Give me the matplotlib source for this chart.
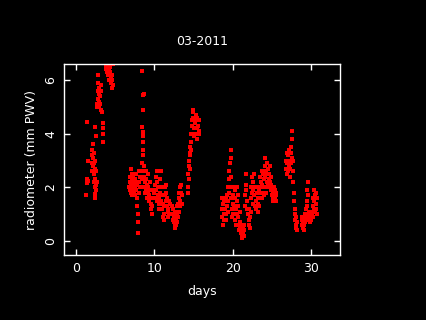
import numpy as np
import matplotlib
matplotlib.use("Agg")
import matplotlib.pyplot as plt

# radiometer PWV readings (day of month, mm PWV)
days_a = [1.35, 1.4, 1.45, 1.4, 1.45, 1.5, 1.55,
          2.0, 2.05, 2.1, 2.1, 2.15, 2.2, 2.2, 2.25, 2.3, 2.3, 2.35, 2.4, 2.4, 2.45, 2.45,
          2.5, 2.5, 2.55, 2.55, 2.4, 2.6, 2.6, 2.65,
          2.7, 2.75, 2.8, 2.8, 2.85, 2.85, 2.9, 2.95, 3.0, 3.0, 3.05, 3.1, 3.15, 3.2, 3.25, 3.3,
          3.4, 3.45, 3.45, 3.5,
          3.85, 3.9, 3.95, 4.0, 4.05, 4.1, 4.15, 4.2, 4.25, 4.3, 4.4, 4.45, 4.5, 4.55, 4.6,
          4.65, 4.7, 4.7]
pwv_a = [1.7, 2.2, 2.3, 2.15, 4.45, 3.0, 2.25,
         2.6, 2.9, 3.2, 3.4, 2.8, 3.1, 3.6, 2.5, 3.3, 2.2, 2.9, 2.0, 1.75, 1.6, 2.7,
         3.0, 2.3, 2.1, 3.9, 4.25, 2.6, 1.9, 2.2,
         5.1, 5.0, 5.3, 5.6, 5.9, 6.2, 5.5, 5.2, 5.0, 5.7, 5.4, 5.1, 4.9, 5.6, 5.8, 4.8,
         4.4, 4.2, 4.0, 3.7,
         6.55, 6.4, 6.6, 6.3, 6.5, 6.2, 6.6, 6.0, 6.4, 6.3, 6.5, 6.1, 5.9, 6.2, 5.7,
         6.0, 5.8, 6.6]

days_b = [6.8, 6.85, 6.9, 6.95, 7.0, 7.0, 7.05, 7.1, 7.15, 7.2, 7.2, 7.25, 7.3, 7.35, 7.4,
          7.45, 7.5, 7.5, 7.55, 7.6, 7.65, 7.7, 7.75, 7.8, 7.85, 7.9, 7.9, 7.95, 8.0, 8.05,
          8.1, 8.15, 8.2,
          8.5, 8.55, 8.55, 8.6, 8.55, 8.6, 8.5, 8.6, 8.55, 8.65, 8.5,
          8.5, 8.6, 8.65, 8.7, 8.75, 8.8, 8.85, 8.9, 8.95, 9.0, 9.05, 9.1, 9.15, 9.2, 9.25,
          9.3, 9.35, 9.4, 9.45, 9.5, 9.55, 9.6, 9.65, 9.7, 9.75, 9.8,
          10.0, 10.1, 10.15, 10.2, 10.25, 10.3, 10.35, 10.4, 10.45, 10.5, 10.55, 10.6, 10.65,
          10.7, 10.75, 10.8, 10.85, 10.9, 10.95,
          11.05, 11.1, 11.15, 11.2, 11.25, 11.3, 11.35, 11.4, 11.45, 11.5, 11.55, 11.6, 11.65,
          11.7, 11.75, 11.8, 11.85, 11.9, 11.95,
          12.3, 12.35, 12.4, 12.45, 12.5, 12.55, 12.6, 12.65, 12.7, 12.75, 12.8, 12.85, 12.9,
          12.95, 13.0, 13.05, 13.1, 13.15, 13.2, 13.25, 13.3, 13.35, 13.4, 13.45, 13.5, 13.55,
          14.3, 14.35, 14.4, 14.35, 14.4, 14.45, 14.5, 14.5, 14.55, 14.6, 14.65, 14.7, 14.75,
          14.8, 14.85, 14.9, 14.95, 15.0, 15.05, 15.1, 15.2, 15.25, 15.3, 15.35, 15.4, 15.45,
          15.5, 15.6, 15.65, 15.7, 15.75]
pwv_b = [2.0, 2.2, 1.9, 2.4, 2.1, 2.7, 1.8, 2.3, 2.0, 2.5, 1.7, 2.2, 1.9, 2.4, 2.1,
         1.8, 2.0, 2.3, 1.7, 2.2, 1.9, 2.5, 2.1, 1.6, 1.3, 1.0, 0.7, 0.3, 1.8, 2.2,
         2.6, 2.4, 2.0,
         2.9, 3.2, 3.4, 3.7, 3.9, 4.05, 4.25, 4.9, 5.45, 5.5, 6.35,
         2.3, 2.6, 2.0, 2.8, 2.4, 1.8, 2.2, 2.6, 1.9, 2.3, 1.6, 2.1, 2.5, 1.8, 2.0,
         1.5, 1.7, 2.2, 1.9, 1.6, 1.4, 1.2, 1.0, 1.3, 1.6, 1.9,
         1.8, 2.1, 1.6, 2.4, 1.9, 1.5, 2.6, 2.2, 1.7, 2.0, 1.4, 1.6, 1.2,
         1.8, 2.3, 2.6, 2.0, 1.5, 1.7,
         1.2, 0.9, 1.4, 1.0, 0.8, 1.3, 1.7, 2.0, 1.5, 1.8, 2.1, 1.6, 1.3,
         1.1, 0.9, 1.2, 1.5, 1.0, 1.4,
         1.3, 1.0, 0.8, 1.2, 0.7, 0.9, 0.6, 1.1, 0.5, 0.8, 0.6, 1.0, 0.7,
         1.3, 0.9, 1.4, 1.1, 1.6, 1.8, 1.3, 2.0, 1.5, 1.8, 2.1, 1.7, 1.4,
         1.8, 2.0, 2.3, 2.5, 2.8, 3.0, 2.7, 3.3, 3.5, 3.2, 3.7, 3.4, 4.0,
         4.3, 4.5, 4.8, 4.9, 4.6, 4.2, 3.9, 4.0, 4.4, 4.7, 4.5, 4.2, 3.8,
         4.6, 4.3, 4.0, 4.5, 4.1]

days_c = [18.6, 18.65, 18.7, 18.75, 18.8, 18.85, 18.9, 18.95, 19.0,
          19.1, 19.15, 19.2, 19.25, 19.3, 19.35, 19.4, 19.45, 19.5, 19.55, 19.6, 19.65, 19.7,
          19.75, 19.8, 19.8, 19.85, 19.9, 19.95,
          20.0, 20.05, 20.1, 20.15, 20.2, 20.25, 20.3, 20.35, 20.4, 20.45, 20.5, 20.55, 20.6,
          20.65, 20.7, 20.75, 20.8, 20.85, 20.9, 20.95,
          21.0, 21.05, 21.1, 21.15, 21.2, 21.25, 21.3, 21.35, 21.4, 21.45, 21.5,
          21.55, 21.6, 21.65, 21.7, 21.75, 21.8, 21.85,
          22.0, 22.05, 22.1, 22.15, 22.2, 22.25, 22.3, 22.35, 22.4, 22.45, 22.5, 22.55, 22.6,
          22.65, 22.7, 22.75, 22.8, 22.85,
          23.0, 23.05, 23.1, 23.15, 23.2, 23.25, 23.3, 23.35, 23.4,
          23.5, 23.55, 23.6, 23.65, 23.7, 23.75, 23.8, 23.85, 23.9, 23.95, 24.0, 24.05, 24.1,
          24.1, 24.15, 24.2, 24.25, 24.3, 24.35, 24.4, 24.45, 24.5, 24.55, 24.6, 24.65, 24.7,
          24.75, 24.8, 24.85, 24.9, 24.95,
          25.0, 25.05, 25.1, 25.15, 25.2, 25.25, 25.3, 25.35, 25.4, 25.45, 25.5, 25.55, 25.6,
          26.8, 26.85, 26.9, 26.95, 27.0, 27.05, 27.1, 27.15, 27.2, 27.25, 27.3, 27.35, 27.4,
          27.45, 27.5, 27.55, 27.6, 27.6, 27.65, 27.7, 27.75, 27.8, 27.85, 27.9, 27.95,
          28.0, 28.05, 28.1, 28.15, 28.2, 28.25,
          28.8, 28.85, 28.9, 28.95, 29.0, 29.05, 29.1, 29.15, 29.2, 29.25, 29.3, 29.35, 29.4,
          29.45, 29.5, 29.55, 29.6, 29.65, 29.7, 29.75, 29.8, 29.85, 29.9, 29.95,
          30.0, 30.1, 30.2, 30.25, 30.3, 30.35, 30.4, 30.45, 30.5, 30.55, 30.6, 30.65, 30.7,
          30.75, 30.8]
pwv_c = [1.6, 1.2, 0.9, 1.4, 0.6, 1.0, 1.5, 0.8, 1.2,
         1.6, 1.0, 0.8, 1.3, 1.7, 1.1, 2.0, 1.5, 2.3, 1.8, 2.6, 2.0, 2.9,
         3.1, 3.4, 2.4, 1.6, 1.2, 0.9,
         1.4, 1.0, 1.7, 2.0, 1.3, 0.8, 1.6, 1.9, 1.2, 0.6, 1.0, 1.5, 2.0,
         1.7, 1.3, 0.9, 0.6, 0.4, 1.1, 0.7,
         0.5, 0.3, 0.6, 0.2, 0.4, 0.1, 0.3, 0.5, 0.2, 0.6, 0.4,
         1.3, 1.7, 2.1, 2.5, 1.9, 1.5, 1.2,
         1.0, 0.8, 1.2, 0.6, 0.9, 0.5, 1.1, 1.6, 2.0, 2.4, 1.8, 1.4, 2.2,
         1.9, 2.5, 1.7, 1.3, 2.0,
         1.5, 1.2, 1.8, 2.0, 1.4, 1.1, 1.6, 1.9, 1.3,
         2.0, 2.4, 1.8, 2.2, 2.6, 1.6, 2.1, 1.8, 2.5, 2.0, 1.7, 2.3, 3.1,
         2.8, 2.4, 2.0, 1.8, 2.6, 2.2, 2.9, 2.5, 2.1, 2.7, 2.3, 2.0, 2.5,
         2.8, 2.2, 1.9, 2.4, 2.1,
         1.7, 2.0, 1.5, 1.8, 1.6, 2.0, 1.7, 1.5, 1.9, 1.6, 1.8, 1.5, 1.7,
         3.0, 2.7, 3.3, 2.5, 2.9, 3.2, 2.6, 3.4, 2.8, 3.0, 2.4, 2.7, 3.3,
         2.9, 3.5, 3.1, 3.8, 4.1, 3.0, 2.6, 2.2, 1.8, 1.5, 1.2, 1.0,
         0.8, 0.6, 0.5, 0.9, 0.4, 0.7,
         0.9, 0.6, 0.8, 0.5, 0.7, 0.4, 0.9, 0.6, 0.8, 1.0, 0.7, 1.2, 0.9,
         1.5, 1.9, 1.3, 2.2, 1.7, 1.1, 0.8, 1.0, 0.7, 0.9, 1.1,
         0.8, 1.0, 1.3, 0.9, 1.6, 1.2, 1.9, 1.5, 1.7, 1.1, 1.4, 1.8, 1.2,
         1.6, 1.0]

title = "03-2011"
x_ticks = [0, 10, 20, 30]
y_ticks = [0, 2, 4, 6]

fig = plt.figure(figsize=(4.26, 3.2), dpi=100, facecolor="black")
ax = fig.add_axes([0.150, 0.203, 0.648, 0.597], facecolor="black")

for d, v in [(days_a, pwv_a), (days_b, pwv_b), (days_c, pwv_c)]:
    ax.plot(d, v, linestyle="none", marker="s", markersize=2.6,
            color="#ff0000", markeredgewidth=0)

ax.set_xlim(-1.53, 33.7)
ax.set_ylim(-0.52, 6.6)
ax.set_xticks(x_ticks)
ax.set_yticks(y_ticks)

for s in ax.spines.values():
    s.set_color("white")
    s.set_linewidth(1.0)
ax.tick_params(colors="white", direction="in", length=4, width=1,
               top=True, right=True, labelsize=9, pad=5)
for lab in ax.get_yticklabels():
    lab.set_rotation(90)
    lab.set_va("center")

ax.set_title(title, color="white", fontsize=9, pad=14)
ax.set_xlabel("days", color="white", fontsize=9, labelpad=7)
ax.set_ylabel("radiometer (mm PWV)", color="white", fontsize=9, labelpad=4)

fig.savefig("out.png", dpi=100, facecolor="black")
